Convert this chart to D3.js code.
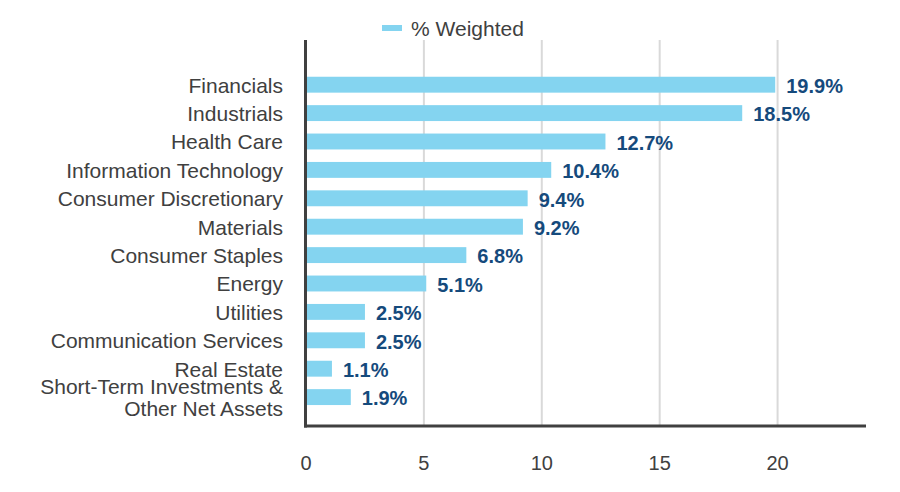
<!DOCTYPE html>
<html><head><meta charset="utf-8">
<script src="https://cdn.jsdelivr.net/npm/d3@7"></script>
<style>body{margin:0;background:#fff}svg{display:block}text{font-family:"Liberation Sans",Arial,sans-serif}</style>
</head><body><svg id="c" width="900" height="492"></svg>
<script>
const categories = ["Financials","Industrials","Health Care","Information Technology","Consumer Discretionary","Materials","Consumer Staples","Energy","Utilities","Communication Services","Real Estate","Short-Term Investments &\nOther Net Assets"];
const values = [19.9,18.5,12.7,10.4,9.4,9.2,6.8,5.1,2.5,2.5,1.1,1.9];
const xTicks = [0,5,10,15,20];
const seriesName = "% Weighted";

(function(){
const svg = d3.select("#c");
const x = d3.scaleLinear().domain([0,23.75]).range([306,866]);
const y = d3.scaleBand().domain(categories).range([70.5,411.3]).paddingInner(0.44).paddingOuter(0.22);
const plotTop = 40, plotBottom = 426;
const textCol = "#404040", barCol = "#84d4f0", valCol = "#154a7c";
const cy = d => y(d) + y.bandwidth()/2;

// gridlines
svg.append("g").selectAll("line").data(xTicks.filter(d=>d>0)).join("line")
  .attr("x1",d=>x(d)).attr("x2",d=>x(d)).attr("y1",plotTop).attr("y2",plotBottom)
  .attr("stroke","#d9d9d9").attr("stroke-width",2);

// bars
svg.append("g").selectAll("rect").data(values).join("rect")
  .attr("x",x(0)).attr("y",(d,i)=>y(categories[i]))
  .attr("width",d=>x(d)-x(0)).attr("height",y.bandwidth()).attr("fill",barCol);

// value labels
svg.append("g").selectAll("text").data(values).join("text")
  .attr("x",d=>x(d)+11).attr("y",(d,i)=>cy(categories[i])+8.3)
  .attr("fill",valCol).attr("font-weight","bold").attr("font-size",20)
  .text(d=>d.toFixed(1)+"%");

// axes lines
svg.append("line").attr("x1",x(0)-0.5).attr("x2",x(0)-0.5).attr("y1",plotTop).attr("y2",plotBottom+1.5).attr("stroke","#404040").attr("stroke-width",3);
svg.append("line").attr("x1",x(0)-2).attr("x2",866).attr("y1",plotBottom).attr("y2",plotBottom).attr("stroke","#404040").attr("stroke-width",3);

// category labels
const cl = svg.append("g").selectAll("text").data(categories).join("text")
  .attr("text-anchor","end").attr("fill",textCol).attr("font-size",21)
  .attr("transform",d=>`translate(283,${cy(d)})`);
cl.each(function(d){
  const lines = d.split("\n");
  const t = d3.select(this);
  if (lines.length === 1) {
    t.append("tspan").attr("x",0).attr("y",7.8).text(lines[0]);
  } else {
    lines.forEach((l,j)=>{
      t.append("tspan").attr("x",0).attr("y",-3.5 + j*22.5).text(l);
    });
  }
});

// x tick labels
svg.append("g").selectAll("text").data(xTicks).join("text")
  .attr("x",d=>x(d)).attr("y",469.5).attr("text-anchor","middle")
  .attr("fill",textCol).attr("font-size",20).text(d=>d);

// legend
svg.append("rect").attr("x",382).attr("y",25).attr("width",20).attr("height",6).attr("fill",barCol);
svg.append("text").attr("x",411).attr("y",36).attr("fill",textCol).attr("font-size",21).text(seriesName);
})();
</script></body></html>
